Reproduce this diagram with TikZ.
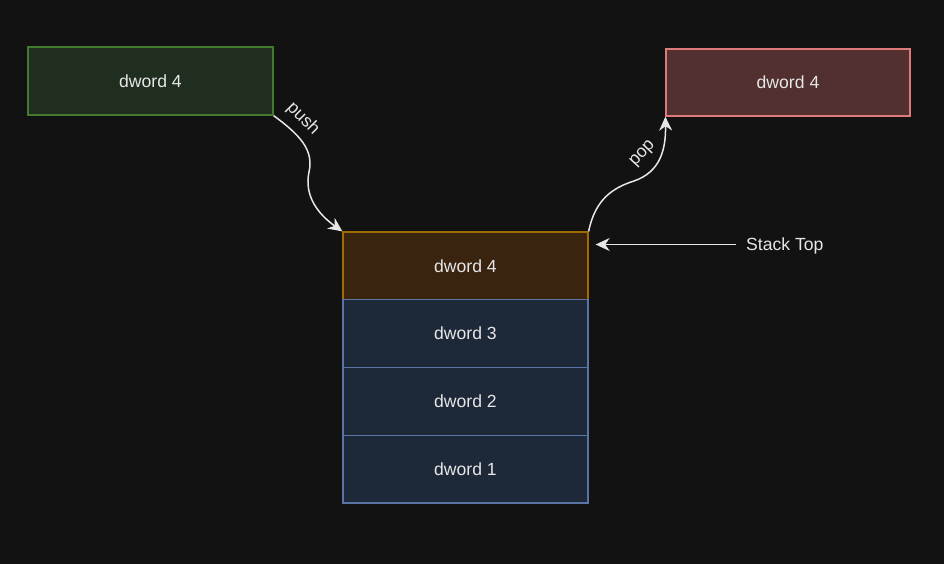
\documentclass[tikz,border=0pt]{standalone}
\usepackage{fontspec}
\setmainfont{Liberation Sans}
\usetikzlibrary{arrows.meta}
\definecolor{bg}{HTML}{121212}
\definecolor{gfill}{HTML}{1F2E1E}
\definecolor{gdraw}{HTML}{437A2E}
\definecolor{rfill}{HTML}{523030}
\definecolor{rdraw}{HTML}{E07A7A}
\definecolor{ofill}{HTML}{3A2410}
\definecolor{odraw}{HTML}{A06C00}
\definecolor{bfill}{HTML}{1D2838}
\definecolor{bdraw}{HTML}{5A75A5}
\definecolor{fg}{HTML}{E6E6E6}
\tikzset{
  box/.style={draw, line width=1.3pt, minimum width=245pt, minimum height=67.75pt, inner sep=0pt, text=fg, font=\fontsize{17.6}{20}\selectfont},
  conn/.style={draw=fg, line width=1.5pt, -{Stealth[length=14pt,width=13pt,inset=4.5pt]}},
  lbl/.style={text=fg, font=\fontsize{17.6}{20}\selectfont, inner sep=1pt}
}
\begin{document}
\begin{tikzpicture}[x=1pt,y=-1pt]
\fill[bg] (0,0) rectangle (944,564);
\useasboundingbox (0,0) rectangle (944,564);
\node[box, fill=gfill, draw=gdraw, minimum height=68pt] (g) at (150.5,81) {dword 4};
\node[box, fill=rfill, draw=rdraw, minimum width=244pt, minimum height=67pt] (r) at (788,82.5) {dword 4};
\node[box, fill=ofill, draw=odraw] (top) at (465.5,265.9) {dword 4};
\node[box, fill=bfill, draw=bdraw] (s3) at (465.5,333.6) {dword 3};
\node[box, fill=bfill, draw=bdraw] (s2) at (465.5,401.4) {dword 2};
\node[box, fill=bfill, draw=bdraw] (s1) at (465.5,469.1) {dword 1};
\node[lbl, anchor=west, inner sep=0pt] (st) at (746,245.5) {Stack Top};
\coordinate (stl) at (736,244.5);
\draw[conn] (stl) -- ([xshift=7pt]top.east |- stl);
\draw[conn] (g.south east) .. controls (300,135) and (314,150) .. (309,172)
  .. controls (304,196) and (318,214) .. (top.north west);
\draw[conn] (top.north east) .. controls (595,200) and (612,188) .. (634,181)
  .. controls (660,172) and (666,150) .. (r.south west);
\node[lbl, rotate=-45] (pushl) at (303,119) {push};
\node[lbl, rotate=47] (popl) at (643,154) {pop};
\end{tikzpicture}
\end{document}
